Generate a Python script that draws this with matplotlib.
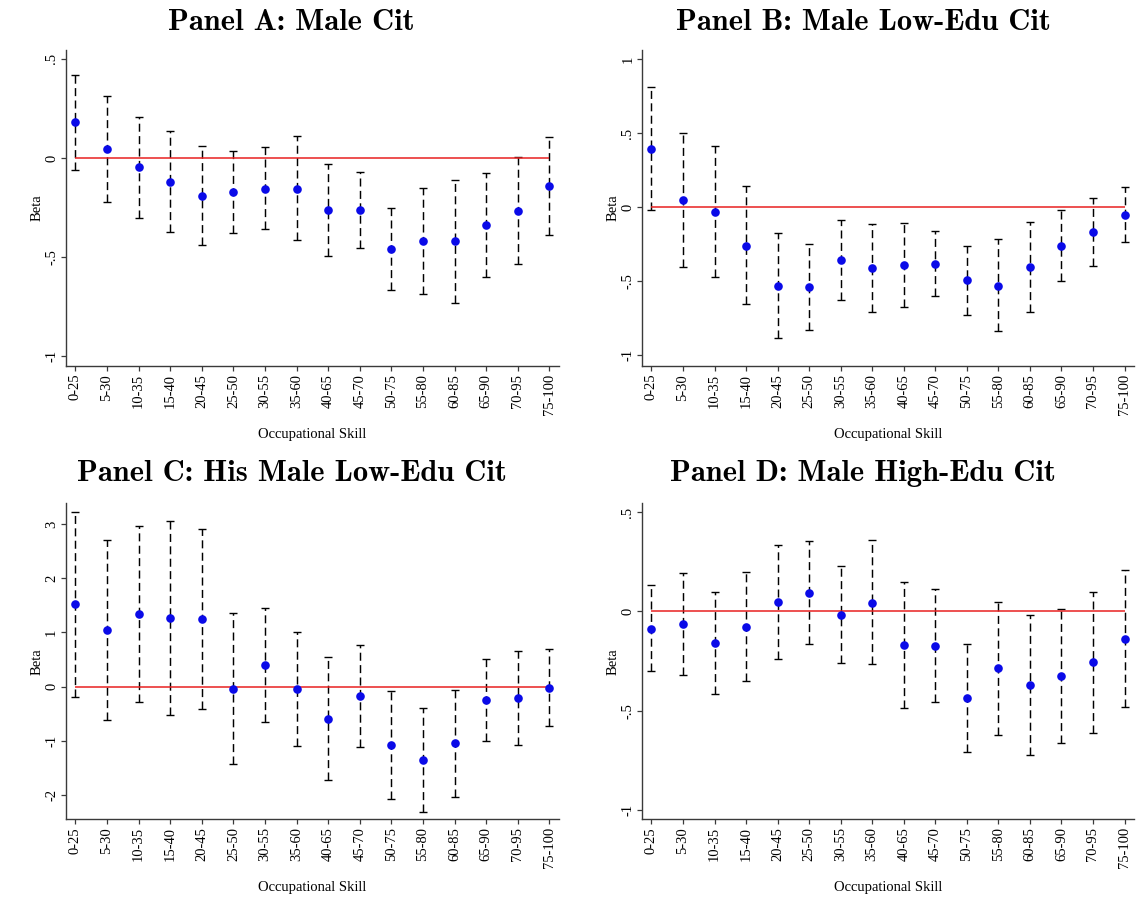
import numpy as np
import matplotlib
matplotlib.use('Agg')
import matplotlib.pyplot as plt

##################################################################################
# data ###########################################################################
##################################################################################

skill_bins = ['0-25', '5-30', '10-35', '15-40', '20-45', '25-50', '30-55', '35-60',
              '40-65', '45-70', '50-75', '55-80', '60-85', '65-90', '70-95', '75-100']

# Panel A: Male Cit
beta_a = [0.18, 0.044, -0.047, -0.119, -0.19, -0.173, -0.154, -0.154,
          -0.263, -0.263, -0.458, -0.419, -0.421, -0.339, -0.267, -0.141]
hi_a = [0.42, 0.314, 0.208, 0.136, 0.062, 0.034, 0.054, 0.109,
        -0.029, -0.07, -0.252, -0.151, -0.111, -0.074, 0.005, 0.107]
lo_a = [-0.062, -0.223, -0.302, -0.372, -0.44, -0.378, -0.357, -0.414,
        -0.497, -0.456, -0.664, -0.688, -0.732, -0.599, -0.537, -0.389]

# Panel B: Male Low-Edu Cit
beta_b = [0.394, 0.047, -0.031, -0.258, -0.529, -0.54, -0.354, -0.41,
          -0.387, -0.383, -0.493, -0.529, -0.405, -0.258, -0.168, -0.052]
hi_b = [0.811, 0.502, 0.412, 0.141, -0.175, -0.246, -0.083, -0.112,
        -0.103, -0.159, -0.258, -0.217, -0.096, -0.016, 0.065, 0.137]
lo_b = [-0.02, -0.403, -0.47, -0.656, -0.882, -0.831, -0.623, -0.708,
        -0.67, -0.602, -0.728, -0.838, -0.71, -0.499, -0.396, -0.237]

# Panel C: His Male Low-Edu Cit
beta_c = [1.52, 1.037, 1.342, 1.273, 1.242, -0.043, 0.398, -0.05,
          -0.596, -0.18, -1.081, -1.366, -1.05, -0.248, -0.217, -0.019]
hi_c = [3.236, 2.708, 2.969, 3.068, 2.919, 1.354, 1.46, 1.006,
        0.54, 0.77, -0.075, -0.398, -0.056, 0.516, 0.652, 0.702]
lo_c = [-0.186, -0.621, -0.286, -0.528, -0.422, -1.435, -0.658, -1.099,
        -1.739, -1.118, -2.087, -2.323, -2.037, -1.0, -1.081, -0.733]

# Panel D: Male High-Edu Cit
beta_d = [-0.086, -0.062, -0.158, -0.077, 0.047, 0.094, -0.017, 0.045,
          -0.169, -0.173, -0.438, -0.287, -0.372, -0.326, -0.257, -0.138]
hi_d = [0.133, 0.193, 0.1, 0.2, 0.336, 0.357, 0.227, 0.359,
        0.149, 0.112, -0.166, 0.049, -0.017, 0.012, 0.097, 0.208]
lo_d = [-0.3, -0.319, -0.416, -0.351, -0.24, -0.166, -0.26, -0.267,
        -0.487, -0.458, -0.706, -0.622, -0.725, -0.663, -0.611, -0.483]

ticks_a = [-1, -0.5, 0, 0.5]
ticklabels_a = ['-1', '-.5', '0', '.5']
ticks_b = [-1, -0.5, 0, 0.5, 1]
ticklabels_b = ['-1', '-.5', '0', '.5', '1']
ticks_c = [-2, -1, 0, 1, 2, 3]
ticklabels_c = ['-2', '-1', '0', '1', '2', '3']

##################################################################################
# plot ###########################################################################
##################################################################################

plt.rcParams['font.family'] = ['Liberation Serif', 'DejaVu Serif']

BLUE = '#0a0ae8'
RED = '#e82020'
AXCOL = '#3a3a3a'


def draw_panel(fig, rect, title, title_xy, beta, lo, hi, yticks, yticklabels, ylim):
    ax = fig.add_axes(rect)
    x = np.arange(len(skill_bins))
    beta = np.array(beta)
    err = [beta - np.array(lo), np.array(hi) - beta]

    eb = ax.errorbar(x, beta, yerr=err, fmt='none', ecolor='black', elinewidth=1.05,
                     capsize=3.2, capthick=1.0, zorder=2)
    eb[2][0].set_linestyle((0, (5.5, 3.0)))

    ax.hlines(0, x[0], x[-1], color=RED, linewidth=1.1, zorder=3)
    ax.plot(x, beta, 'o', color=BLUE, markersize=6.2, markeredgewidth=0, zorder=4)

    ax.set_xlim(-0.3, len(skill_bins) - 0.7)
    ax.set_ylim(ylim)
    ax.set_xticks(x)
    ax.set_xticklabels(skill_bins, rotation=90, fontsize=10.5)
    ax.set_yticks(yticks)
    ax.set_yticklabels(yticklabels, rotation=90, va='center', fontsize=10.5)

    for side in ['top', 'right']:
        ax.spines[side].set_visible(False)
    for side in ['left', 'bottom']:
        ax.spines[side].set_color(AXCOL)
        ax.spines[side].set_linewidth(1.0)
    ax.tick_params(length=3.6, width=0.9, color=AXCOL, pad=2)

    ax.set_xlabel('Occupational Skill', fontsize=10.5, labelpad=9)
    ax.set_ylabel('Beta', fontsize=10.5, labelpad=1)

    fig.text(title_xy[0], title_xy[1], title, ha='center', va='center',
             fontsize=22, family=['cmb10', 'DejaVu Serif'])
    return ax


fig = plt.figure(figsize=(11.43, 9.06), dpi=100)

draw_panel(fig, [0.0577, 0.596, 0.4313, 0.3488], 'Panel A: Male Cit', (0.255, 0.975),
           beta_a, lo_a, hi_a, ticks_a, ticklabels_a, (-1.05, 0.545))
draw_panel(fig, [0.5617, 0.596, 0.4304, 0.3488], 'Panel B: Male Low-Edu Cit', (0.755, 0.975),
           beta_b, lo_b, hi_b, ticks_b, ticklabels_b, (-1.072, 1.063))
draw_panel(fig, [0.0577, 0.0957, 0.4313, 0.3488], 'Panel C: His Male Low-Edu Cit', (0.255, 0.477),
           beta_c, lo_c, hi_c, ticks_c, ticklabels_c, (-2.457, 3.39))
draw_panel(fig, [0.5617, 0.0957, 0.4304, 0.3488], 'Panel D: Male High-Edu Cit', (0.755, 0.477),
           beta_d, lo_d, hi_d, ticks_a, ticklabels_a, (-1.047, 0.545))

plt.savefig('out.png', dpi=100)
